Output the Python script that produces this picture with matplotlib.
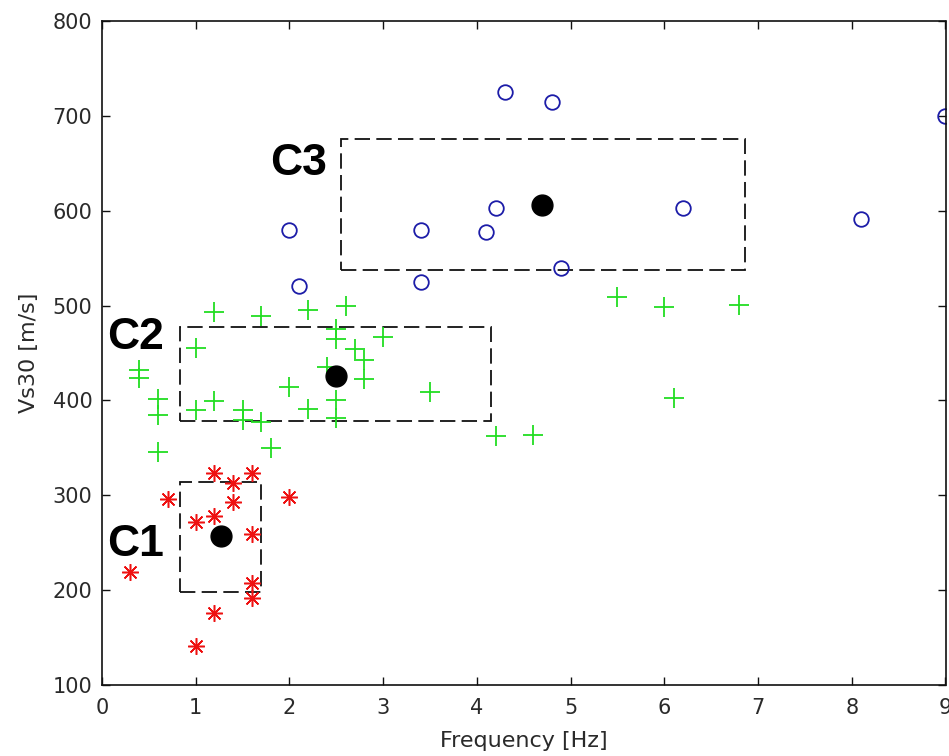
import matplotlib
matplotlib.use("Agg")
import matplotlib.pyplot as plt
from matplotlib.patches import Rectangle

# ---- data ----
c1_freq = [1.2, 1.6, 1.4, 0.7, 1.4, 2.0, 1.2, 1.0, 1.6, 0.3, 1.6, 1.6, 1.2, 1.0]
c1_vs30 = [323, 323, 313, 296, 293, 298, 278, 272, 259, 219, 208, 192, 176, 141]

c2_freq = [1.2, 1.7, 2.2, 2.6, 2.5, 2.5, 3.0, 1.0, 2.7, 2.8, 2.8, 2.4, 0.4, 0.4,
           2.0, 3.5, 0.6, 0.6, 1.0, 1.2, 1.5, 1.5, 1.7, 2.2, 2.5, 2.5, 4.2, 4.6,
           0.6, 1.8, 5.5, 6.0, 6.8, 6.1]
c2_vs30 = [493, 489, 495, 500, 475, 465, 467, 455, 454, 443, 423, 435, 432, 424,
           414, 409, 402, 385, 390, 399, 390, 379, 377, 391, 400, 382, 362, 364,
           346, 350, 509, 499, 501, 403]

c3_freq = [4.3, 4.8, 2.0, 3.4, 4.1, 4.2, 6.2, 4.9, 2.1, 3.4, 8.1, 9.0]
c3_vs30 = [725, 715, 580, 580, 578, 603, 603, 540, 521, 525, 591, 700]

centroid_freq = [1.27, 2.5, 4.7]
centroid_vs30 = [257, 426, 606]

box_fmin = [0.83, 0.83, 2.55]
box_fmax = [1.70, 4.15, 6.86]
box_vmin = [198, 378, 537]
box_vmax = [314, 477, 676]

cluster_names = ["C1", "C2", "C3"]
label_freq = [0.06, 0.06, 1.79]
label_vs30 = [248, 466, 650]

xticks = [0, 1, 2, 3, 4, 5, 6, 7, 8, 9]
yticks = [100, 200, 300, 400, 500, 600, 700, 800]

# ---- figure ----
fig = plt.figure(figsize=(9.49, 7.56), dpi=100)
ax = fig.add_axes([102 / 949, 71 / 756, 843.5 / 949, 664 / 756])

ax.plot(c2_freq, c2_vs30, linestyle="none", marker="+", markersize=14,
        markeredgewidth=1.3, color="#22dd22")
ax.plot(c1_freq, c1_vs30, linestyle="none", marker=(8, 2, 0), markersize=12,
        markeredgewidth=1.1, color="#ee1111")
ax.plot(c3_freq, c3_vs30, linestyle="none", marker="o", markersize=10.5,
        markerfacecolor="none", markeredgewidth=1.3, color="#1c1ca8")

for f0, f1, v0, v1 in zip(box_fmin, box_fmax, box_vmin, box_vmax):
    ax.add_patch(Rectangle((f0, v0), f1 - f0, v1 - v0, fill=False,
                           edgecolor="#111111", linewidth=1.3,
                           linestyle=(0, (8.5, 3.5))))

ax.plot(centroid_freq, centroid_vs30, linestyle="none", marker="o",
        markersize=15, color="black")

for name, fx, vy in zip(cluster_names, label_freq, label_vs30):
    ax.text(fx, vy, name, fontsize=32, fontweight="bold",
            family="Liberation Sans", ha="left", va="center", color="black")

ax.set_xlim(0, 9)
ax.set_ylim(100, 800)
ax.set_xticks(xticks)
ax.set_yticks(yticks)
ax.tick_params(direction="in", length=6, width=1, top=True, right=True,
               labelsize=15, labelcolor="#2a2a2a", color="#111111")
ax.tick_params(axis="x", pad=9)
ax.tick_params(axis="y", pad=7)
for s in ax.spines.values():
    s.set_linewidth(1.2)
    s.set_color("#111111")

ax.set_xlabel("Frequency [Hz]", fontsize=16, color="#2a2a2a", labelpad=10)
ax.set_ylabel("Vs30 [m/s]", fontsize=16, color="#2a2a2a", labelpad=10)

fig.savefig("out.png", dpi=100)
